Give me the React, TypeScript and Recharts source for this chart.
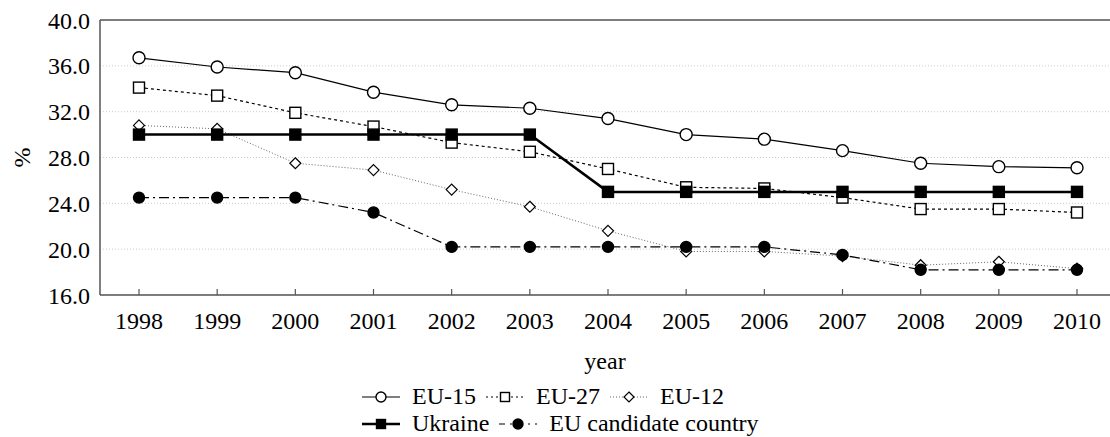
import { LineChart, Line, XAxis, YAxis, CartesianGrid, ReferenceLine } from 'recharts';

const FONT = 'Liberation Serif';
const FS = 24;
const AXIS = '#555';

const YEARS = ['1998', '1999', '2000', '2001', '2002', '2003', '2004', '2005', '2006', '2007', '2008', '2009', '2010'];
const EU15 = [36.7, 35.9, 35.4, 33.7, 32.6, 32.3, 31.4, 30.0, 29.6, 28.6, 27.5, 27.2, 27.1];
const EU27 = [34.1, 33.4, 31.9, 30.7, 29.3, 28.5, 27.0, 25.4, 25.3, 24.5, 23.5, 23.5, 23.2];
const EU12 = [30.8, 30.5, 27.5, 26.9, 25.2, 23.7, 21.6, 19.8, 19.8, 19.4, 18.6, 18.9, 18.3];
const UKRAINE = [30.0, 30.0, 30.0, 30.0, 30.0, 30.0, 25.0, 25.0, 25.0, 25.0, 25.0, 25.0, 25.0];
const CANDIDATE = [24.5, 24.5, 24.5, 23.2, 20.2, 20.2, 20.2, 20.2, 20.2, 19.5, 18.2, 18.2, 18.2];
const Y_TICKS = [16, 20, 24, 28, 32, 36, 40];

const data = YEARS.map((year, i) => ({
  year,
  eu15: EU15[i],
  eu27: EU27[i],
  eu12: EU12[i],
  ukraine: UKRAINE[i],
  candidate: CANDIDATE[i],
}));

type Shape = 'circle' | 'square' | 'diamond';

function marker(shape: Shape, filled: boolean, cx: number, cy: number, s: number, key?: string) {
  const fill = filled ? '#000' : '#fff';
  if (shape === 'circle') return <circle key={key} cx={cx} cy={cy} r={s} fill={fill} stroke="#000" strokeWidth={1.4} />;
  if (shape === 'square') return <rect key={key} x={cx - s} y={cy - s} width={2 * s} height={2 * s} fill={fill} stroke="#000" strokeWidth={1.4} />;
  return <polygon key={key} points={`${cx},${cy - s} ${cx + s},${cy} ${cx},${cy + s} ${cx - s},${cy}`} fill={fill} stroke="#000" strokeWidth={1.2} />;
}

function dot(shape: Shape, filled: boolean, s: number) {
  return (p: any) => marker(shape, filled, p.cx, p.cy, s, `${shape}-${p.index}`);
}

const SERIES = [
  { key: 'eu15', name: 'EU-15', shape: 'circle' as Shape, filled: false, width: 1.2, dash: undefined, legendDash: undefined, color: '#000', size: 6 },
  { key: 'eu27', name: 'EU-27', shape: 'square' as Shape, filled: false, width: 1.2, dash: '3 3', legendDash: '2 3', color: '#000', size: 5.5 },
  { key: 'eu12', name: 'EU-12', shape: 'diamond' as Shape, filled: false, width: 1, dash: '1 2', legendDash: '1 2', color: '#666', size: 5.5 },
  { key: 'ukraine', name: 'Ukraine', shape: 'square' as Shape, filled: true, width: 2.5, dash: undefined, legendDash: undefined, color: '#000', size: 5.5 },
  { key: 'candidate', name: 'EU candidate country', shape: 'circle' as Shape, filled: true, width: 1.2, dash: '10 4 2 4', legendDash: '6 5 2 5', color: '#000', size: 5.5 },
];

function XTick(p: any) {
  const { x, y, payload } = p;
  return (
    <g>
      <line x1={x} x2={x} y1={y} y2={y - 6} stroke={AXIS} strokeWidth={1.2} />
      <text x={x} y={y + 34} textAnchor="middle" fill="#000" fontFamily={FONT} fontSize={FS}>{payload.value}</text>
    </g>
  );
}

function LegendIcon({ s }: { s: typeof SERIES[number] }) {
  return (
    <svg width={38} height={14} style={{ marginRight: 12 }}>
      <line x1={0} x2={38} y1={7} y2={7} stroke={s.color} strokeWidth={s.width} strokeDasharray={s.legendDash} />
      {marker(s.shape, s.filled, 19, 7, s.shape === 'square' ? 4.5 : 5)}
    </svg>
  );
}

function LegendRows() {
  const rows = [SERIES.slice(0, 3), SERIES.slice(3)];
  return (
    <div style={{ position: 'absolute', left: 362, top: 383, fontFamily: FONT, fontSize: FS, color: '#000', lineHeight: '27px' }}>
      {rows.map((row, r) => (
        <div key={r} style={{ display: 'flex', alignItems: 'center' }}>
          {row.map(s => (
            <div key={s.key} style={{ display: 'flex', alignItems: 'center', marginRight: 10 }}>
              <LegendIcon s={s} />
              <span>{s.name}</span>
            </div>
          ))}
        </div>
      ))}
    </div>
  );
}

export default function App() {
  return (
    <div style={{ position: 'absolute', left: 0, top: 0, width: 1110, height: 437, background: '#fff' }}>
      <LineChart width={1110} height={437} data={data} margin={{ top: 20, right: 0, left: 0, bottom: 0 }}>
        <CartesianGrid horizontal vertical={false} stroke="#ccc" strokeDasharray="1 2" />
        <ReferenceLine y={40} stroke={AXIS} strokeWidth={1.5} />
        <XAxis dataKey="year" height={142} padding={{ left: 39, right: 33 }} stroke={AXIS} strokeWidth={1.5}
               tickLine={false} tickSize={0} tickMargin={0} tick={XTick} interval={0}
               label={{ content: (p: any) => (
                 <text x={p.viewBox.x + p.viewBox.width / 2} y={p.viewBox.y + 74} textAnchor="middle"
                       fill="#000" fontFamily={FONT} fontSize={FS}>year</text>
               ) }} />
        <YAxis type="number" domain={[16, 40]} ticks={Y_TICKS} width={100} stroke={AXIS} strokeWidth={1.5}
               tickLine={false} tickSize={0} tickMargin={10} tickFormatter={v => v.toFixed(1)}
               tick={{ fill: '#000', fontFamily: FONT, fontSize: FS }}
               label={{ content: (p: any) => {
                 const cy = p.viewBox.y + p.viewBox.height / 2;
                 return (
                   <text x={30} y={cy} transform={`rotate(-90 30 ${cy})`} textAnchor="middle"
                         fill="#000" fontFamily={FONT} fontSize={FS}>%</text>
                 );
               } }} />
        {SERIES.map(s => (
          <Line key={s.key} dataKey={s.key} name={s.name} type="linear" stroke={s.color} strokeWidth={s.width}
                strokeDasharray={s.dash} dot={dot(s.shape, s.filled, s.size)} activeDot={false}
                isAnimationActive={false} />
        ))}
      </LineChart>
      <LegendRows />
    </div>
  );
}
